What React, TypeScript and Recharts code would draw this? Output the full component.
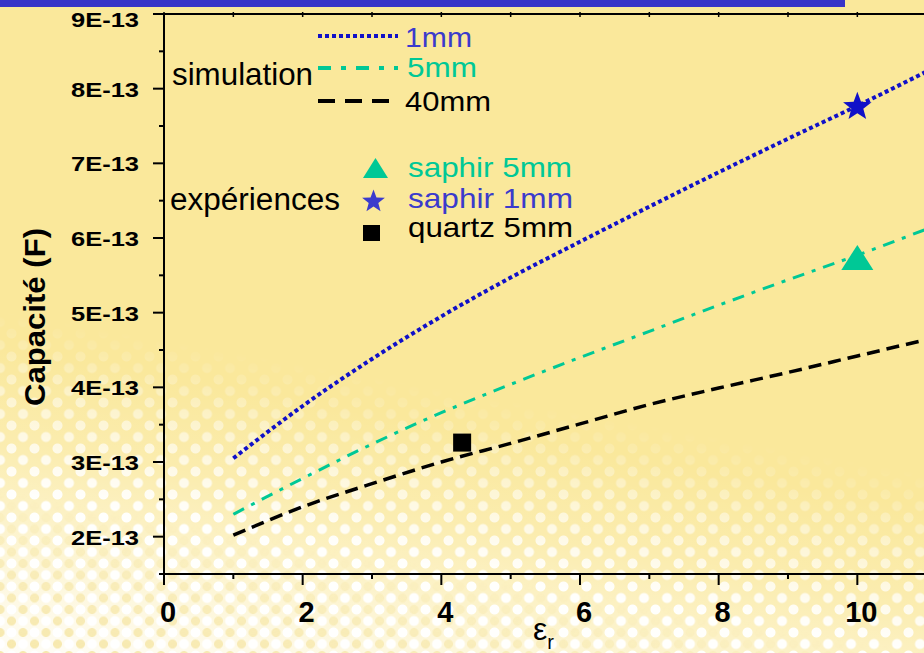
import React from "react";
import { ComposedChart, Line, Scatter, XAxis, YAxis, Legend, Label } from "recharts";

// permittivité relative, points de simulation
const epsR = [1, 2, 3, 4, 5, 6, 7, 8, 9, 10, 11];
// capacité simulée (F) pour trois épaisseurs
const sim1mm = [3.05e-13, 3.75e-13, 4.38e-13, 4.95e-13, 5.47e-13, 5.95e-13, 6.42e-13, 6.88e-13, 7.33e-13, 7.77e-13, 8.23e-13];
const sim5mm = [2.3e-13, 2.78e-13, 3.24e-13, 3.66e-13, 4.04e-13, 4.4e-13, 4.75e-13, 5.1e-13, 5.44e-13, 5.77e-13, 6.12e-13];
const sim40mm = [2.02e-13, 2.4e-13, 2.71e-13, 3.0e-13, 3.25e-13, 3.51e-13, 3.77e-13, 3.99e-13, 4.2e-13, 4.42e-13, 4.64e-13];

// mesures
const saphir5mm = [{ x: 10, y: 5.72e-13 }];
const saphir1mm = [{ x: 10, y: 7.77e-13 }];
const quartz5mm = [{ x: 4.3, y: 3.26e-13 }];

const xTicks = [0, 1, 2, 3, 4, 5, 6, 7, 8, 9, 10, 11, 12];
const yTicks = [1.5e-13, 2e-13, 2.5e-13, 3e-13, 3.5e-13, 4e-13, 4.5e-13, 5e-13, 5.5e-13, 6e-13, 6.5e-13, 7e-13, 7.5e-13, 8e-13, 8.5e-13, 9e-13];

const FONT = '"Liberation Sans", Arial, sans-serif';
const BLUE = "#1010c8";
const BLUE_TXT = "#3b3bcc";
const TEAL = "#00c896";

const YTick = (props: any) => {
  const { x, y, payload } = props;
  const v = Math.round(payload.value * 1e14) / 10;
  const major = Number.isInteger(v);
  return (
    <g>
      <line x1={x - (major ? 11 : 5)} x2={x} y1={y} y2={y} stroke="#000" strokeWidth={2} />
      {major && v >= 2 && (
        <text
          x={x - 25}
          y={y + (v === 9 ? 6 : 1)}
          textAnchor="end"
          dominantBaseline="central"
          fontFamily={FONT}
          fontWeight="bold"
          fontSize={20}
          textLength={68}
          lengthAdjust="spacingAndGlyphs"
          fill="#000"
        >
          {`${v}E-13`}
        </text>
      )}
    </g>
  );
};

const XTick = (props: any) => {
  const { x, y, payload } = props;
  const v = payload.value;
  const major = v % 2 === 0;
  return (
    <g>
      <line x1={x} x2={x} y1={y} y2={y + (major ? 11 : 5)} stroke="#000" strokeWidth={2} />
      {major && v <= 10 && (
        <text x={x + 4} y={y + 48} textAnchor="middle" fontFamily={FONT} fontWeight="bold" fontSize={29} fill="#000">
          {v}
        </text>
      )}
    </g>
  );
};

const TopTick = (props: any) => {
  const { x, y } = props;
  return <line x1={x} x2={x} y1={y - 2} y2={y + 3} stroke="#000" strokeWidth={1.5} />;
};

const YTitle = (props: any) => {
  const vb = props.viewBox;
  const cx = vb.x + vb.width - 130;
  const cy = vb.y + 303;
  return (
    <text
      x={cx}
      y={cy}
      transform={`rotate(-90 ${cx} ${cy})`}
      textAnchor="middle"
      dominantBaseline="central"
      fontFamily={FONT}
      fontWeight="bold"
      fontSize={30}
      textLength={178}
      lengthAdjust="spacingAndGlyphs"
      fill="#000"
    >
      Capacité (F)
    </text>
  );
};

const XTitle = (props: any) => {
  const vb = props.viewBox;
  const x = vb.x + 369;
  const y = vb.y + 66;
  return (
    <text x={x} y={y} fontFamily={FONT} fontSize={32} fill="#000">
      ε
      <tspan fontSize={20} dy={9}>
        r
      </tspan>
    </text>
  );
};

const starPath = (cx: number, cy: number, R: number) => {
  const r = R * 0.42;
  let d = "";
  for (let i = 0; i < 10; i++) {
    const a = -Math.PI / 2 + (i * Math.PI) / 5;
    const rr = i % 2 === 0 ? R : r;
    d += `${i === 0 ? "M" : "L"}${cx + rr * Math.cos(a)},${cy + rr * Math.sin(a)}`;
  }
  return d + "Z";
};

const Triangle = (props: any) => {
  const { cx, cy } = props;
  return <path d={`M${cx},${cy - 14}L${cx - 16},${cy + 11}L${cx + 16},${cy + 11}Z`} fill={TEAL} />;
};
const Star = (props: any) => <path d={starPath(props.cx, props.cy + 1, 15)} fill={BLUE} />;
const Square = (props: any) => <rect x={props.cx - 9} y={props.cy - 9} width={18} height={18} fill="#000" />;

const LegendBox = () => (
  <svg width={620} height={260} style={{ display: "block", overflow: "visible" }}>
    <g fontFamily={FONT}>
      <text x={172} y={85} fontSize={32} textLength={141} lengthAdjust="spacingAndGlyphs" fill="#000">
        simulation
      </text>
      <line x1={318} x2={398} y1={36} y2={36} stroke={BLUE} strokeWidth={4} strokeDasharray="4 3" />
      <text x={405} y={47} fontSize={28} textLength={67} lengthAdjust="spacingAndGlyphs" fill={BLUE_TXT}>
        1mm
      </text>
      <line x1={318} x2={398} y1={68} y2={68} stroke={TEAL} strokeWidth={4} strokeDasharray="13 10 5 10" />
      <text x={407} y={77} fontSize={28} textLength={70} lengthAdjust="spacingAndGlyphs" fill={TEAL}>
        5mm
      </text>
      <line x1={318} x2={398} y1={101} y2={101} stroke="#000" strokeWidth={4} strokeDasharray="17 10" />
      <text x={405} y={111} fontSize={28} textLength={86} lengthAdjust="spacingAndGlyphs" fill="#000">
        40mm
      </text>

      <text x={170} y={210} fontSize={31} textLength={170} lengthAdjust="spacingAndGlyphs" fill="#000">
        expériences
      </text>
      <path d="M375.5,158L363,178L388,178Z" fill={TEAL} />
      <path d={starPath(373.5, 201.5, 12)} fill={BLUE_TXT} />
      <rect x={363} y={225} width={17} height={16} fill="#000" />
      <text x={408} y={177} fontSize={28} textLength={164} lengthAdjust="spacingAndGlyphs" fill={TEAL}>
        saphir 5mm
      </text>
      <text x={408} y={208} fontSize={28} textLength={165} lengthAdjust="spacingAndGlyphs" fill={BLUE_TXT}>
        saphir 1mm
      </text>
      <text x={408} y={237} fontSize={28} textLength={165} lengthAdjust="spacingAndGlyphs" fill="#000">
        quartz 5mm
      </text>
    </g>
  </svg>
);

export default function App() {
  const rows = epsR.map((e, i) => ({ x: e, c1: sim1mm[i], c5: sim5mm[i], c40: sim40mm[i] }));
  const dot = "radial-gradient(circle, rgba(255,255,255,0.95) 0 4.5px, rgba(255,255,255,0) 5.5px)";
  const ydot = "radial-gradient(circle, rgba(240,214,110,0.55) 0 4px, rgba(240,214,110,0) 5px)";
  return (
    <div
      style={{
        position: "fixed",
        left: 0,
        top: 0,
        width: 924,
        height: 653,
        overflow: "hidden",
        background: "#fae89b",
        fontFamily: FONT,
      }}
    >
      <div
        style={{
          position: "absolute",
          inset: 0,
          background:
            "linear-gradient(10deg, rgba(255,255,255,0.92) 0%, rgba(255,255,255,0.6) 12%, rgba(255,255,255,0.2) 26%, rgba(255,255,255,0) 38%)",
        }}
      />
      <div
        style={{
          position: "absolute",
          inset: 0,
          backgroundImage: `${dot}, ${dot}`,
          backgroundSize: "23px 23px",
          backgroundPosition: "0 0, 11.5px 11.5px",
          maskImage: "linear-gradient(10deg, #000 0%, #000 20%, rgba(0,0,0,0.5) 32%, transparent 42%)",
          WebkitMaskImage: "linear-gradient(10deg, #000 0%, #000 20%, rgba(0,0,0,0.5) 32%, transparent 42%)",
        }}
      />
      <div
        style={{
          position: "absolute",
          inset: 0,
          backgroundImage: `${ydot}, ${ydot}`,
          backgroundSize: "23px 23px",
          backgroundPosition: "11.5px 0, 0 11.5px",
          maskImage: "linear-gradient(10deg, #000 0%, rgba(0,0,0,0.6) 10%, transparent 20%)",
          WebkitMaskImage: "linear-gradient(10deg, #000 0%, rgba(0,0,0,0.6) 10%, transparent 20%)",
        }}
      />
      <div style={{ position: "absolute", left: 0, top: 0, width: 845, height: 7, background: "#3834c8" }} />
      <div style={{ position: "absolute", left: 0, top: 0 }}>
        <ComposedChart width={1000} height={653} data={rows} margin={{ top: 0, right: 4, bottom: 0, left: 64 }}>
          <XAxis
            xAxisId="top"
            orientation="top"
            type="number"
            dataKey="x"
            domain={[0, 12]}
            ticks={xTicks}
            height={14}
            tickSize={0}
            tickMargin={0}
            tick={TopTick}
            axisLine={{ stroke: "#000", strokeWidth: 2 }}
            allowDataOverflow
          />
          <XAxis
            type="number"
            dataKey="x"
            domain={[0, 12]}
            ticks={xTicks}
            height={79}
            tickSize={0}
            tickMargin={0}
            tick={XTick}
            axisLine={{ stroke: "#000", strokeWidth: 2 }}
            allowDataOverflow
          >
            <Label content={XTitle} />
          </XAxis>
          <YAxis
            type="number"
            domain={[1.5e-13, 9e-13]}
            ticks={yTicks}
            width={100}
            tickSize={0}
            tickMargin={0}
            tick={YTick}
            axisLine={{ stroke: "#000", strokeWidth: 2 }}
            allowDataOverflow
          >
            <Label content={YTitle} />
          </YAxis>
          <Legend
            content={LegendBox}
            layout="horizontal"
            verticalAlign="middle"
            align="center"
            wrapperStyle={{ position: "absolute", left: 0, top: 0, width: 620, height: 260, pointerEvents: "none" }}
          />
          <Line type="monotone" dataKey="c1" stroke={BLUE} strokeWidth={4} strokeDasharray="4 3" dot={false} isAnimationActive={false} />
          <Line type="monotone" dataKey="c5" stroke={TEAL} strokeWidth={3} strokeDasharray="12 8 4 8" dot={false} isAnimationActive={false} />
          <Line type="monotone" dataKey="c40" stroke="#000" strokeWidth={3.5} strokeDasharray="13 7" dot={false} isAnimationActive={false} />
          <Scatter data={saphir5mm} dataKey="y" shape={Triangle} isAnimationActive={false} />
          <Scatter data={saphir1mm} dataKey="y" shape={Star} isAnimationActive={false} />
          <Scatter data={quartz5mm} dataKey="y" shape={Square} isAnimationActive={false} />
        </ComposedChart>
      </div>
    </div>
  );
}
